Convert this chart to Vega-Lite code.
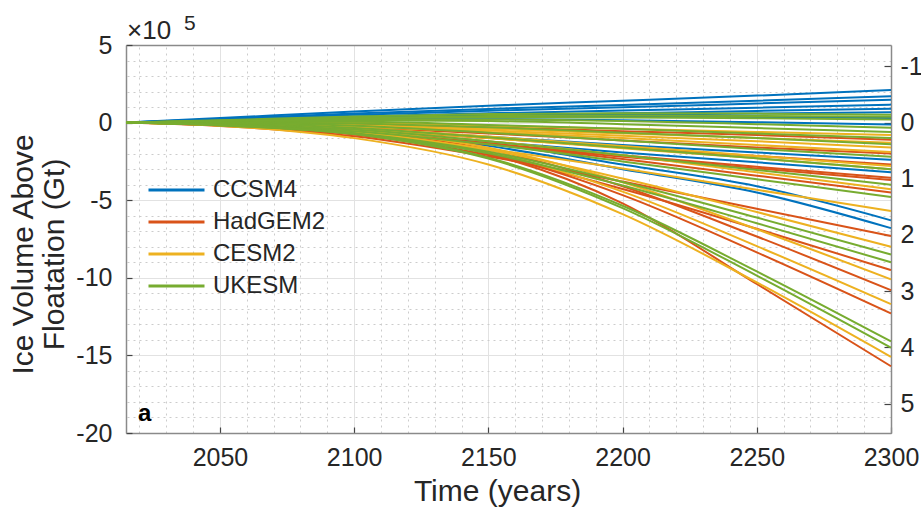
{
  "$schema": "https://vega.github.io/schema/vega-lite/v6.json",
  "width": 765,
  "height": 388,
  "autosize": {"type": "none"},
  "padding": {"left": 126, "top": 45, "right": 30, "bottom": 80},
  "background": "white",
  "config": {
    "view": {"stroke": null},
    "font": "Liberation Sans",
    "axis": {"labelFont": "Liberation Sans", "titleFont": "Liberation Sans", "labelColor": "#262626", "titleColor": "#262626", "domainColor": "#8a8a8a", "domainWidth": 1.5, "tickColor": "#444444", "tickWidth": 1.2, "titleFontWeight": "normal"},
    "legend": {"labelFont": "Liberation Sans"}
  },
  "datasets": {
    "runs": [
      {"model":"CCSM4","run":"C1","year":2015,"v":0},{"model":"CCSM4","run":"C1","year":2050,"v":0.29},{"model":"CCSM4","run":"C1","year":2100,"v":0.71},{"model":"CCSM4","run":"C1","year":2150,"v":1.09},{"model":"CCSM4","run":"C1","year":2200,"v":1.41},{"model":"CCSM4","run":"C1","year":2250,"v":1.74},{"model":"CCSM4","run":"C1","year":2300,"v":2.1},
      {"model":"CCSM4","run":"C2","year":2015,"v":0},{"model":"CCSM4","run":"C2","year":2050,"v":0.24},{"model":"CCSM4","run":"C2","year":2100,"v":0.58},{"model":"CCSM4","run":"C2","year":2150,"v":0.88},{"model":"CCSM4","run":"C2","year":2200,"v":1.14},{"model":"CCSM4","run":"C2","year":2250,"v":1.41},{"model":"CCSM4","run":"C2","year":2300,"v":1.7},
      {"model":"CCSM4","run":"C3","year":2015,"v":0},{"model":"CCSM4","run":"C3","year":2050,"v":0.21},{"model":"CCSM4","run":"C3","year":2100,"v":0.5},{"model":"CCSM4","run":"C3","year":2150,"v":0.77},{"model":"CCSM4","run":"C3","year":2200,"v":0.99},{"model":"CCSM4","run":"C3","year":2250,"v":1.23},{"model":"CCSM4","run":"C3","year":2300,"v":1.48},
      {"model":"CCSM4","run":"C4","year":2015,"v":0},{"model":"CCSM4","run":"C4","year":2050,"v":0.16},{"model":"CCSM4","run":"C4","year":2100,"v":0.39},{"model":"CCSM4","run":"C4","year":2150,"v":0.6},{"model":"CCSM4","run":"C4","year":2200,"v":0.78},{"model":"CCSM4","run":"C4","year":2250,"v":0.96},{"model":"CCSM4","run":"C4","year":2300,"v":1.16},
      {"model":"CCSM4","run":"C5","year":2015,"v":0},{"model":"CCSM4","run":"C5","year":2050,"v":0.13},{"model":"CCSM4","run":"C5","year":2100,"v":0.31},{"model":"CCSM4","run":"C5","year":2150,"v":0.47},{"model":"CCSM4","run":"C5","year":2200,"v":0.6},{"model":"CCSM4","run":"C5","year":2250,"v":0.75},{"model":"CCSM4","run":"C5","year":2300,"v":0.9},
      {"model":"CCSM4","run":"C6","year":2015,"v":0},{"model":"CCSM4","run":"C6","year":2050,"v":0.12},{"model":"CCSM4","run":"C6","year":2100,"v":0.28},{"model":"CCSM4","run":"C6","year":2150,"v":0.4},{"model":"CCSM4","run":"C6","year":2200,"v":0.5},{"model":"CCSM4","run":"C6","year":2250,"v":0.58},{"model":"CCSM4","run":"C6","year":2300,"v":0.66},
      {"model":"CCSM4","run":"C7","year":2015,"v":0},{"model":"CCSM4","run":"C7","year":2050,"v":0.12},{"model":"CCSM4","run":"C7","year":2100,"v":0.28},{"model":"CCSM4","run":"C7","year":2150,"v":0.35},{"model":"CCSM4","run":"C7","year":2200,"v":0.36},{"model":"CCSM4","run":"C7","year":2250,"v":0.34},{"model":"CCSM4","run":"C7","year":2300,"v":0.3},
      {"model":"CCSM4","run":"C8","year":2015,"v":0},{"model":"CCSM4","run":"C8","year":2050,"v":0.1},{"model":"CCSM4","run":"C8","year":2100,"v":0.2},{"model":"CCSM4","run":"C8","year":2150,"v":0.22},{"model":"CCSM4","run":"C8","year":2200,"v":0.15},{"model":"CCSM4","run":"C8","year":2250,"v":0.03},{"model":"CCSM4","run":"C8","year":2300,"v":-0.13},
      {"model":"CCSM4","run":"C9","year":2015,"v":0},{"model":"CCSM4","run":"C9","year":2050,"v":-0.1},{"model":"CCSM4","run":"C9","year":2100,"v":-0.41},{"model":"CCSM4","run":"C9","year":2150,"v":-0.91},{"model":"CCSM4","run":"C9","year":2200,"v":-1.44},{"model":"CCSM4","run":"C9","year":2250,"v":-1.92},{"model":"CCSM4","run":"C9","year":2300,"v":-2.4},
      {"model":"CCSM4","run":"C10","year":2015,"v":0},{"model":"CCSM4","run":"C10","year":2050,"v":-0.13},{"model":"CCSM4","run":"C10","year":2100,"v":-0.54},{"model":"CCSM4","run":"C10","year":2150,"v":-1.22},{"model":"CCSM4","run":"C10","year":2200,"v":-1.92},{"model":"CCSM4","run":"C10","year":2250,"v":-2.56},{"model":"CCSM4","run":"C10","year":2300,"v":-3.2},
      {"model":"CCSM4","run":"C11","year":2015,"v":0},{"model":"CCSM4","run":"C11","year":2050,"v":-0.1},{"model":"CCSM4","run":"C11","year":2100,"v":-0.5},{"model":"CCSM4","run":"C11","year":2150,"v":-1.3},{"model":"CCSM4","run":"C11","year":2200,"v":-2.7},{"model":"CCSM4","run":"C11","year":2250,"v":-4.1},{"model":"CCSM4","run":"C11","year":2300,"v":-6.3},
      {"model":"CCSM4","run":"C12","year":2015,"v":0},{"model":"CCSM4","run":"C12","year":2050,"v":-0.1},{"model":"CCSM4","run":"C12","year":2100,"v":-0.55},{"model":"CCSM4","run":"C12","year":2150,"v":-1.5},{"model":"CCSM4","run":"C12","year":2200,"v":-3.0},{"model":"CCSM4","run":"C12","year":2250,"v":-4.5},{"model":"CCSM4","run":"C12","year":2300,"v":-6.8},
      {"model":"HadGEM2","run":"H1","year":2015,"v":0},{"model":"HadGEM2","run":"H1","year":2050,"v":0},{"model":"HadGEM2","run":"H1","year":2100,"v":-0.1},{"model":"HadGEM2","run":"H1","year":2150,"v":-0.3},{"model":"HadGEM2","run":"H1","year":2200,"v":-0.55},{"model":"HadGEM2","run":"H1","year":2250,"v":-0.8},{"model":"HadGEM2","run":"H1","year":2300,"v":-1.1},
      {"model":"HadGEM2","run":"H2","year":2015,"v":0},{"model":"HadGEM2","run":"H2","year":2050,"v":-0.05},{"model":"HadGEM2","run":"H2","year":2100,"v":-0.3},{"model":"HadGEM2","run":"H2","year":2150,"v":-0.7},{"model":"HadGEM2","run":"H2","year":2200,"v":-1.15},{"model":"HadGEM2","run":"H2","year":2250,"v":-1.6},{"model":"HadGEM2","run":"H2","year":2300,"v":-2.0},
      {"model":"HadGEM2","run":"H3","year":2015,"v":0},{"model":"HadGEM2","run":"H3","year":2050,"v":-0.1},{"model":"HadGEM2","run":"H3","year":2100,"v":-0.45},{"model":"HadGEM2","run":"H3","year":2150,"v":-1.0},{"model":"HadGEM2","run":"H3","year":2200,"v":-1.6},{"model":"HadGEM2","run":"H3","year":2250,"v":-2.15},{"model":"HadGEM2","run":"H3","year":2300,"v":-2.7},
      {"model":"HadGEM2","run":"H4","year":2015,"v":0},{"model":"HadGEM2","run":"H4","year":2050,"v":-0.15},{"model":"HadGEM2","run":"H4","year":2100,"v":-0.6},{"model":"HadGEM2","run":"H4","year":2150,"v":-1.35},{"model":"HadGEM2","run":"H4","year":2200,"v":-2.1},{"model":"HadGEM2","run":"H4","year":2250,"v":-2.85},{"model":"HadGEM2","run":"H4","year":2300,"v":-3.55},
      {"model":"HadGEM2","run":"H5","year":2015,"v":0},{"model":"HadGEM2","run":"H5","year":2050,"v":-0.15},{"model":"HadGEM2","run":"H5","year":2100,"v":-0.65},{"model":"HadGEM2","run":"H5","year":2150,"v":-1.4},{"model":"HadGEM2","run":"H5","year":2200,"v":-2.2},{"model":"HadGEM2","run":"H5","year":2250,"v":-2.95},{"model":"HadGEM2","run":"H5","year":2300,"v":-3.7},
      {"model":"HadGEM2","run":"H6","year":2015,"v":0},{"model":"HadGEM2","run":"H6","year":2050,"v":-0.14},{"model":"HadGEM2","run":"H6","year":2100,"v":-0.54},{"model":"HadGEM2","run":"H6","year":2150,"v":-1.35},{"model":"HadGEM2","run":"H6","year":2200,"v":-2.34},{"model":"HadGEM2","run":"H6","year":2250,"v":-3.42},{"model":"HadGEM2","run":"H6","year":2300,"v":-4.5},
      {"model":"HadGEM2","run":"H7","year":2015,"v":0},{"model":"HadGEM2","run":"H7","year":2050,"v":-0.22},{"model":"HadGEM2","run":"H7","year":2100,"v":-0.88},{"model":"HadGEM2","run":"H7","year":2150,"v":-2.19},{"model":"HadGEM2","run":"H7","year":2200,"v":-3.8},{"model":"HadGEM2","run":"H7","year":2250,"v":-5.55},{"model":"HadGEM2","run":"H7","year":2300,"v":-7.3},
      {"model":"HadGEM2","run":"H8","year":2015,"v":0},{"model":"HadGEM2","run":"H8","year":2050,"v":-0.19},{"model":"HadGEM2","run":"H8","year":2100,"v":-0.76},{"model":"HadGEM2","run":"H8","year":2150,"v":-2.09},{"model":"HadGEM2","run":"H8","year":2200,"v":-4.28},{"model":"HadGEM2","run":"H8","year":2250,"v":-6.84},{"model":"HadGEM2","run":"H8","year":2300,"v":-9.5},
      {"model":"HadGEM2","run":"H9","year":2015,"v":0},{"model":"HadGEM2","run":"H9","year":2050,"v":-0.11},{"model":"HadGEM2","run":"H9","year":2100,"v":-0.54},{"model":"HadGEM2","run":"H9","year":2150,"v":-1.73},{"model":"HadGEM2","run":"H9","year":2200,"v":-4.1},{"model":"HadGEM2","run":"H9","year":2250,"v":-7.34},{"model":"HadGEM2","run":"H9","year":2300,"v":-10.8},
      {"model":"HadGEM2","run":"H10","year":2015,"v":0},{"model":"HadGEM2","run":"H10","year":2050,"v":-0.12},{"model":"HadGEM2","run":"H10","year":2100,"v":-0.62},{"model":"HadGEM2","run":"H10","year":2150,"v":-1.97},{"model":"HadGEM2","run":"H10","year":2200,"v":-4.67},{"model":"HadGEM2","run":"H10","year":2250,"v":-8.36},{"model":"HadGEM2","run":"H10","year":2300,"v":-12.3},
      {"model":"HadGEM2","run":"H11","year":2015,"v":0},{"model":"HadGEM2","run":"H11","year":2050,"v":-0.12},{"model":"HadGEM2","run":"H11","year":2100,"v":-0.6},{"model":"HadGEM2","run":"H11","year":2150,"v":-2.0},{"model":"HadGEM2","run":"H11","year":2200,"v":-5.2},{"model":"HadGEM2","run":"H11","year":2250,"v":-10.4},{"model":"HadGEM2","run":"H11","year":2300,"v":-15.7},
      {"model":"CESM2","run":"Y1","year":2015,"v":0},{"model":"CESM2","run":"Y1","year":2050,"v":0.05},{"model":"CESM2","run":"Y1","year":2100,"v":0},{"model":"CESM2","run":"Y1","year":2150,"v":-0.2},{"model":"CESM2","run":"Y1","year":2200,"v":-0.4},{"model":"CESM2","run":"Y1","year":2250,"v":-0.6},{"model":"CESM2","run":"Y1","year":2300,"v":-0.8},
      {"model":"CESM2","run":"Y2","year":2015,"v":0},{"model":"CESM2","run":"Y2","year":2050,"v":0},{"model":"CESM2","run":"Y2","year":2100,"v":-0.15},{"model":"CESM2","run":"Y2","year":2150,"v":-0.4},{"model":"CESM2","run":"Y2","year":2200,"v":-0.7},{"model":"CESM2","run":"Y2","year":2250,"v":-1.0},{"model":"CESM2","run":"Y2","year":2300,"v":-1.3},
      {"model":"CESM2","run":"Y3","year":2015,"v":0},{"model":"CESM2","run":"Y3","year":2050,"v":0},{"model":"CESM2","run":"Y3","year":2100,"v":-0.2},{"model":"CESM2","run":"Y3","year":2150,"v":-0.5},{"model":"CESM2","run":"Y3","year":2200,"v":-0.85},{"model":"CESM2","run":"Y3","year":2250,"v":-1.2},{"model":"CESM2","run":"Y3","year":2300,"v":-1.6},
      {"model":"CESM2","run":"Y4","year":2015,"v":0},{"model":"CESM2","run":"Y4","year":2050,"v":-0.05},{"model":"CESM2","run":"Y4","year":2100,"v":-0.25},{"model":"CESM2","run":"Y4","year":2150,"v":-0.6},{"model":"CESM2","run":"Y4","year":2200,"v":-1.0},{"model":"CESM2","run":"Y4","year":2250,"v":-1.45},{"model":"CESM2","run":"Y4","year":2300,"v":-1.9},
      {"model":"CESM2","run":"Y5","year":2015,"v":0},{"model":"CESM2","run":"Y5","year":2050,"v":-0.05},{"model":"CESM2","run":"Y5","year":2100,"v":-0.35},{"model":"CESM2","run":"Y5","year":2150,"v":-0.9},{"model":"CESM2","run":"Y5","year":2200,"v":-1.5},{"model":"CESM2","run":"Y5","year":2250,"v":-2.15},{"model":"CESM2","run":"Y5","year":2300,"v":-2.8},
      {"model":"CESM2","run":"Y6","year":2015,"v":0},{"model":"CESM2","run":"Y6","year":2050,"v":-0.1},{"model":"CESM2","run":"Y6","year":2100,"v":-0.4},{"model":"CESM2","run":"Y6","year":2150,"v":-1.0},{"model":"CESM2","run":"Y6","year":2200,"v":-1.65},{"model":"CESM2","run":"Y6","year":2250,"v":-2.3},{"model":"CESM2","run":"Y6","year":2300,"v":-3.0},
      {"model":"CESM2","run":"Y7","year":2015,"v":0},{"model":"CESM2","run":"Y7","year":2050,"v":-0.1},{"model":"CESM2","run":"Y7","year":2100,"v":-0.5},{"model":"CESM2","run":"Y7","year":2150,"v":-1.2},{"model":"CESM2","run":"Y7","year":2200,"v":-2.1},{"model":"CESM2","run":"Y7","year":2250,"v":-3.2},{"model":"CESM2","run":"Y7","year":2300,"v":-4.3},
      {"model":"CESM2","run":"Y8","year":2015,"v":0},{"model":"CESM2","run":"Y8","year":2050,"v":-0.17},{"model":"CESM2","run":"Y8","year":2100,"v":-0.68},{"model":"CESM2","run":"Y8","year":2150,"v":-1.71},{"model":"CESM2","run":"Y8","year":2200,"v":-2.96},{"model":"CESM2","run":"Y8","year":2250,"v":-4.33},{"model":"CESM2","run":"Y8","year":2300,"v":-5.7},
      {"model":"CESM2","run":"Y9","year":2015,"v":0},{"model":"CESM2","run":"Y9","year":2050,"v":-0.16},{"model":"CESM2","run":"Y9","year":2100,"v":-0.64},{"model":"CESM2","run":"Y9","year":2150,"v":-1.76},{"model":"CESM2","run":"Y9","year":2200,"v":-3.6},{"model":"CESM2","run":"Y9","year":2250,"v":-5.76},{"model":"CESM2","run":"Y9","year":2300,"v":-8.0},
      {"model":"CESM2","run":"Y10","year":2015,"v":0},{"model":"CESM2","run":"Y10","year":2050,"v":-0.1},{"model":"CESM2","run":"Y10","year":2100,"v":-0.5},{"model":"CESM2","run":"Y10","year":2150,"v":-1.62},{"model":"CESM2","run":"Y10","year":2200,"v":-3.84},{"model":"CESM2","run":"Y10","year":2250,"v":-6.87},{"model":"CESM2","run":"Y10","year":2300,"v":-10.1},
      {"model":"CESM2","run":"Y11","year":2015,"v":0},{"model":"CESM2","run":"Y11","year":2050,"v":-0.12},{"model":"CESM2","run":"Y11","year":2100,"v":-0.59},{"model":"CESM2","run":"Y11","year":2150,"v":-1.87},{"model":"CESM2","run":"Y11","year":2200,"v":-4.45},{"model":"CESM2","run":"Y11","year":2250,"v":-7.96},{"model":"CESM2","run":"Y11","year":2300,"v":-11.7},
      {"model":"CESM2","run":"Y12","year":2015,"v":0},{"model":"CESM2","run":"Y12","year":2050,"v":-0.2},{"model":"CESM2","run":"Y12","year":2100,"v":-1.0},{"model":"CESM2","run":"Y12","year":2150,"v":-2.7},{"model":"CESM2","run":"Y12","year":2200,"v":-5.9},{"model":"CESM2","run":"Y12","year":2250,"v":-10.3},{"model":"CESM2","run":"Y12","year":2300,"v":-15.1},
      {"model":"UKESM","run":"U1","year":2015,"v":0},{"model":"UKESM","run":"U1","year":2050,"v":0.15},{"model":"UKESM","run":"U1","year":2100,"v":0.4},{"model":"UKESM","run":"U1","year":2150,"v":0.55},{"model":"UKESM","run":"U1","year":2200,"v":0.6},{"model":"UKESM","run":"U1","year":2250,"v":0.58},{"model":"UKESM","run":"U1","year":2300,"v":0.5},
      {"model":"UKESM","run":"U2","year":2015,"v":0},{"model":"UKESM","run":"U2","year":2050,"v":0.12},{"model":"UKESM","run":"U2","year":2100,"v":0.3},{"model":"UKESM","run":"U2","year":2150,"v":0.42},{"model":"UKESM","run":"U2","year":2200,"v":0.45},{"model":"UKESM","run":"U2","year":2250,"v":0.43},{"model":"UKESM","run":"U2","year":2300,"v":0.38},
      {"model":"UKESM","run":"U3","year":2015,"v":0},{"model":"UKESM","run":"U3","year":2050,"v":0.12},{"model":"UKESM","run":"U3","year":2100,"v":0.28},{"model":"UKESM","run":"U3","year":2150,"v":0.35},{"model":"UKESM","run":"U3","year":2200,"v":0.33},{"model":"UKESM","run":"U3","year":2250,"v":0.28},{"model":"UKESM","run":"U3","year":2300,"v":0.2},
      {"model":"UKESM","run":"U4","year":2015,"v":0},{"model":"UKESM","run":"U4","year":2050,"v":0.1},{"model":"UKESM","run":"U4","year":2100,"v":0.2},{"model":"UKESM","run":"U4","year":2150,"v":0.2},{"model":"UKESM","run":"U4","year":2200,"v":0.1},{"model":"UKESM","run":"U4","year":2250,"v":-0.1},{"model":"UKESM","run":"U4","year":2300,"v":-0.33},
      {"model":"UKESM","run":"U5","year":2015,"v":0},{"model":"UKESM","run":"U5","year":2050,"v":0.08},{"model":"UKESM","run":"U5","year":2100,"v":0.15},{"model":"UKESM","run":"U5","year":2150,"v":0.1},{"model":"UKESM","run":"U5","year":2200,"v":-0.1},{"model":"UKESM","run":"U5","year":2250,"v":-0.35},{"model":"UKESM","run":"U5","year":2300,"v":-0.6},
      {"model":"UKESM","run":"U6","year":2015,"v":0},{"model":"UKESM","run":"U6","year":2050,"v":0.05},{"model":"UKESM","run":"U6","year":2100,"v":0.05},{"model":"UKESM","run":"U6","year":2150,"v":-0.15},{"model":"UKESM","run":"U6","year":2200,"v":-0.4},{"model":"UKESM","run":"U6","year":2250,"v":-0.7},{"model":"UKESM","run":"U6","year":2300,"v":-1.0},
      {"model":"UKESM","run":"U7","year":2015,"v":0},{"model":"UKESM","run":"U7","year":2050,"v":0.03},{"model":"UKESM","run":"U7","year":2100,"v":-0.05},{"model":"UKESM","run":"U7","year":2150,"v":-0.3},{"model":"UKESM","run":"U7","year":2200,"v":-0.65},{"model":"UKESM","run":"U7","year":2250,"v":-1.0},{"model":"UKESM","run":"U7","year":2300,"v":-1.4},
      {"model":"UKESM","run":"U8","year":2015,"v":0},{"model":"UKESM","run":"U8","year":2050,"v":0},{"model":"UKESM","run":"U8","year":2100,"v":-0.2},{"model":"UKESM","run":"U8","year":2150,"v":-0.65},{"model":"UKESM","run":"U8","year":2200,"v":-1.15},{"model":"UKESM","run":"U8","year":2250,"v":-1.7},{"model":"UKESM","run":"U8","year":2300,"v":-2.2},
      {"model":"UKESM","run":"U9","year":2015,"v":0},{"model":"UKESM","run":"U9","year":2050,"v":-0.05},{"model":"UKESM","run":"U9","year":2100,"v":-0.35},{"model":"UKESM","run":"U9","year":2150,"v":-0.95},{"model":"UKESM","run":"U9","year":2200,"v":-1.6},{"model":"UKESM","run":"U9","year":2250,"v":-2.3},{"model":"UKESM","run":"U9","year":2300,"v":-3.0},
      {"model":"UKESM","run":"U10","year":2015,"v":0},{"model":"UKESM","run":"U10","year":2050,"v":-0.1},{"model":"UKESM","run":"U10","year":2100,"v":-0.45},{"model":"UKESM","run":"U10","year":2150,"v":-1.2},{"model":"UKESM","run":"U10","year":2200,"v":-2.1},{"model":"UKESM","run":"U10","year":2250,"v":-3.05},{"model":"UKESM","run":"U10","year":2300,"v":-4.0},
      {"model":"UKESM","run":"U11","year":2015,"v":0},{"model":"UKESM","run":"U11","year":2050,"v":-0.12},{"model":"UKESM","run":"U11","year":2100,"v":-0.55},{"model":"UKESM","run":"U11","year":2150,"v":-1.4},{"model":"UKESM","run":"U11","year":2200,"v":-2.5},{"model":"UKESM","run":"U11","year":2250,"v":-3.65},{"model":"UKESM","run":"U11","year":2300,"v":-4.8},
      {"model":"UKESM","run":"U12","year":2015,"v":0},{"model":"UKESM","run":"U12","year":2050,"v":-0.17},{"model":"UKESM","run":"U12","year":2100,"v":-0.68},{"model":"UKESM","run":"U12","year":2150,"v":-1.87},{"model":"UKESM","run":"U12","year":2200,"v":-3.83},{"model":"UKESM","run":"U12","year":2250,"v":-6.12},{"model":"UKESM","run":"U12","year":2300,"v":-8.5},
      {"model":"UKESM","run":"U13","year":2015,"v":0},{"model":"UKESM","run":"U13","year":2050,"v":-0.18},{"model":"UKESM","run":"U13","year":2100,"v":-0.72},{"model":"UKESM","run":"U13","year":2150,"v":-1.98},{"model":"UKESM","run":"U13","year":2200,"v":-4.05},{"model":"UKESM","run":"U13","year":2250,"v":-6.48},{"model":"UKESM","run":"U13","year":2300,"v":-9.0},
      {"model":"UKESM","run":"U14","year":2015,"v":0},{"model":"UKESM","run":"U14","year":2050,"v":-0.14},{"model":"UKESM","run":"U14","year":2100,"v":-0.7},{"model":"UKESM","run":"U14","year":2150,"v":-2.26},{"model":"UKESM","run":"U14","year":2200,"v":-5.36},{"model":"UKESM","run":"U14","year":2250,"v":-9.59},{"model":"UKESM","run":"U14","year":2300,"v":-14.1},
      {"model":"UKESM","run":"U15","year":2015,"v":0},{"model":"UKESM","run":"U15","year":2050,"v":-0.15},{"model":"UKESM","run":"U15","year":2100,"v":-0.73},{"model":"UKESM","run":"U15","year":2150,"v":-2.32},{"model":"UKESM","run":"U15","year":2200,"v":-5.51},{"model":"UKESM","run":"U15","year":2250,"v":-9.86},{"model":"UKESM","run":"U15","year":2300,"v":-14.5}
    ],
    "labels": [{"panel": "a", "mult": "×10", "exp": "5"}],
    "sle": [{"sle_m": -1}, {"sle_m": 5}]
  },
  "layer": [
    {
      "layer": [
        {
          "data": {"name": "sle"},
          "mark": {"type": "point", "opacity": 0},
          "encoding": {
            "x": {"datum": 2015, "type": "quantitative", "scale": {"domain": [2015, 2300], "nice": false, "zero": false},
              "axis": {"orient": "top", "values": [2020,2030,2040,2060,2070,2080,2090,2110,2120,2130,2140,2160,2170,2180,2190,2210,2220,2230,2240,2260,2270,2280,2290], "labels": false, "ticks": false, "domain": true, "grid": true, "gridDash": [2, 4], "gridColor": "#cccccc", "gridWidth": 1, "title": null}},
            "y": {"datum": 0, "type": "quantitative", "scale": {"domain": [-20, 5], "nice": false, "zero": false},
              "axis": {"orient": "right", "values": [-19,-18,-17,-16,-14,-13,-12,-11,-9,-8,-7,-6,-4,-3,-2,-1,1,2,3,4], "labels": false, "ticks": false, "domain": false, "grid": true, "gridDash": [2, 4], "gridColor": "#cccccc", "gridWidth": 1, "title": null}}
          }
        },
        {
          "data": {"name": "runs"},
          "mark": {"type": "line", "strokeWidth": 2, "interpolate": "monotone"},
          "encoding": {
            "x": {"field": "year", "type": "quantitative",
              "axis": {"orient": "bottom", "values": [2050, 2100, 2150, 2200, 2250, 2300], "format": "d", "grid": true, "gridColor": "#e2e2e2", "gridWidth": 1, "tickSize": -6, "labelPadding": 18, "labelFontSize": 25, "labelFlush": false, "title": "Time (years)", "titleFontSize": 30, "titlePadding": 6, "titleX": 371}},
            "y": {"field": "v", "type": "quantitative",
              "axis": {"orient": "left", "values": [-20, -15, -10, -5, 0, 5], "grid": true, "gridColor": "#e2e2e2", "gridWidth": 1, "tickSize": -6, "labelPadding": 20, "labelFontSize": 25, "labelExpr": "replace(datum.label, '−', '-')", "title": ["Ice Volume Above", "Floatation (Gt)"], "titleFontSize": 30, "titleLineHeight": 31, "titlePadding": 6, "titleY": 209}},
            "color": {"field": "model", "type": "nominal",
              "scale": {"domain": ["CCSM4", "HadGEM2", "CESM2", "UKESM"], "range": ["#0072BD", "#D95319", "#EDB120", "#77AC30"]},
              "legend": {"orient": "none", "legendX": 21, "legendY": 129, "title": null, "symbolType": "stroke", "symbolSize": 3136, "symbolStrokeWidth": 3, "clipHeight": 32, "rowPadding": 0, "labelFontSize": 24, "labelColor": "#262626", "labelOffset": 7, "padding": 0}},
            "detail": {"field": "run"}
          }
        },
        {
          "data": {"name": "labels"},
          "mark": {"type": "text", "fontSize": 24, "fontWeight": "bold", "align": "left", "baseline": "alphabetic", "dx": 12, "dy": -12, "color": "#000000"},
          "encoding": {
            "x": {"datum": 2015, "type": "quantitative", "axis": null},
            "y": {"datum": -20, "type": "quantitative", "axis": null},
            "text": {"field": "panel"}
          }
        },
        {
          "data": {"name": "labels"},
          "mark": {"type": "text", "fontSize": 26, "align": "left", "baseline": "alphabetic", "dx": 1, "dy": -6, "color": "#262626"},
          "encoding": {
            "x": {"datum": 2015, "type": "quantitative", "axis": null},
            "y": {"datum": 5, "type": "quantitative", "axis": null},
            "text": {"field": "mult"}
          }
        },
        {
          "data": {"name": "labels"},
          "mark": {"type": "text", "fontSize": 21, "align": "left", "baseline": "alphabetic", "dx": 58, "dy": -15, "color": "#262626"},
          "encoding": {
            "x": {"datum": 2015, "type": "quantitative", "axis": null},
            "y": {"datum": 5, "type": "quantitative", "axis": null},
            "text": {"field": "exp"}
          }
        }
      ],
      "resolve": {"axis": {"x": "independent", "y": "independent"}}
    },
    {
      "data": {"name": "sle"},
      "mark": {"type": "point", "opacity": 0},
      "encoding": {
        "y": {"field": "sle_m", "type": "quantitative",
          "scale": {"domain": [-1.381, 5.525], "reverse": true, "nice": false, "zero": false},
          "axis": {"orient": "right", "values": [-1, 0, 1, 2, 3, 4, 5], "grid": false, "tickSize": -7, "labelPadding": 16, "labelFontSize": 25, "labelExpr": "replace(datum.label, '−', '-')", "title": null, "domain": true}}
      }
    }
  ],
  "resolve": {"scale": {"y": "independent"}, "axis": {"x": "independent", "y": "independent"}}
}
